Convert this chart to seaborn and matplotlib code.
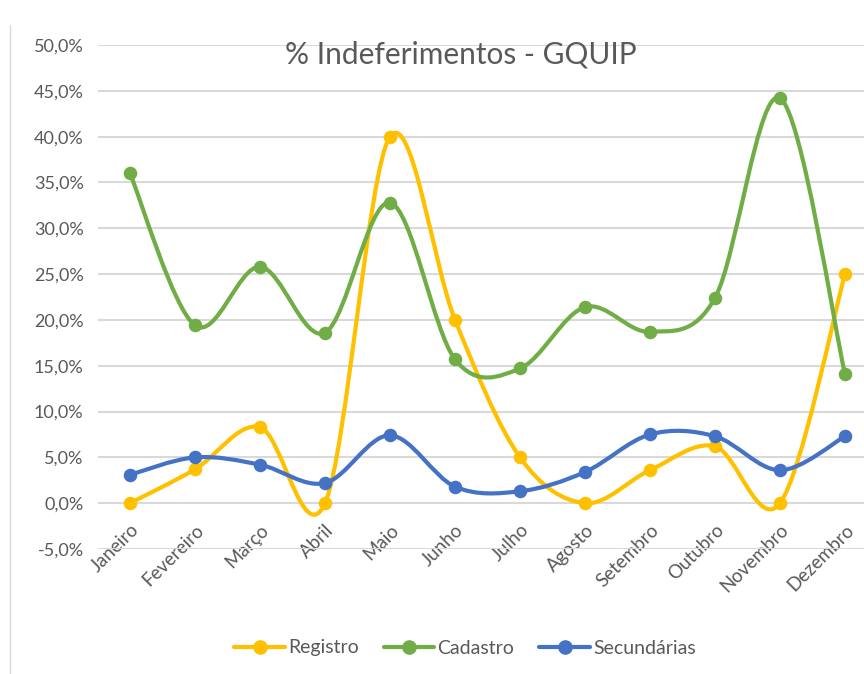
import numpy as np
import matplotlib
matplotlib.use("Agg")
import matplotlib.pyplot as plt
import seaborn as sns
from matplotlib.path import Path
from matplotlib.patches import PathPatch
from matplotlib.lines import Line2D

# Data (percent)
meses = ["Janeiro", "Fevereiro", "Março", "Abril", "Maio", "Junho", "Julho",
         "Agosto", "Setembro", "Outubro", "Novembro", "Dezembro"]
registro = [0.0, 3.7, 8.3, 0.0, 40.0, 20.0, 5.0, 0.0, 3.6, 6.2, 0.0, 25.0]
cadastro = [36.0, 19.4, 25.8, 18.6, 32.8, 15.7, 14.7, 21.4, 18.7, 22.4, 44.2, 14.1]
secundarias = [3.1, 5.0, 4.2, 2.2, 7.4, 1.8, 1.3, 3.4, 7.5, 7.3, 3.6, 7.3]

series = [("Registro", registro, "#FFC000"),
          ("Cadastro", cadastro, "#70AD47"),
          ("Secundárias", secundarias, "#4472C4")]

sns.set_theme(style="white")
plt.rcParams['font.family'] = ['Lato', 'DejaVu Sans']

fig = plt.figure(figsize=(8.64, 6.74), dpi=100)
ax = fig.add_axes([97.5 / 864, 1 - 549 / 674, (864 - 97.5) / 864, 504 / 674])


def smooth_path(xs, ys):
    # Excel-like smoothed line: cubic Bezier segments (Catmull-Rom)
    pts = np.column_stack([xs, ys]).astype(float)
    ext = np.vstack([pts[0], pts, pts[-1]])
    verts = [pts[0]]
    codes = [Path.MOVETO]
    for i in range(len(pts) - 1):
        p0, p1, p2, p3 = ext[i], ext[i + 1], ext[i + 2], ext[i + 3]
        c1 = p1 + (p2 - p0) / 6.0
        c2 = p2 - (p3 - p1) / 6.0
        verts += [c1, c2, p2]
        codes += [Path.CURVE4] * 3
    return Path(verts, codes)


x = np.arange(len(meses))
for nome, vals, cor in series:
    patch = PathPatch(smooth_path(x, vals), fill=False, edgecolor=cor,
                      lw=3.0, capstyle='round', joinstyle='round', zorder=3)
    patch.set_clip_on(False)
    ax.add_patch(patch)
    sns.scatterplot(x=x, y=vals, color=cor, s=95, edgecolor=cor,
                    linewidth=0, ax=ax, zorder=4, legend=False)
for c in ax.collections:
    c.set_clip_on(False)

ax.set_xlim(-0.5, (864 - 97.5) / 65 - 0.5)
ax.set_ylim(-5, 50)
yt = np.arange(-5, 51, 5)
ax.set_yticks(yt)
ax.set_yticklabels([f"{v:.1f}%".replace(".", ",") for v in yt],
                   color="#595959", fontsize=13)
ax.set_xticks(x)
ax.set_xticklabels(meses, rotation=45, ha="right", rotation_mode="anchor",
                   color="#595959", fontsize=13.5)
ax.tick_params(axis='y', length=0, pad=10)
ax.tick_params(axis='x', length=0, pad=-20)
ax.grid(axis='y', color="#d9d9d9", lw=1.5)
ax.set_axisbelow(True)
for s in ax.spines.values():
    s.set_visible(False)

fig.text(461 / 864, 1 - 55 / 674, "% Indeferimentos - GQUIP", ha="center",
         va="center", fontsize=21.5, color="#595959")

handles = [Line2D([0], [0], color=c, lw=3.0, marker='o', markersize=9.5)
           for _, _, c in series]
fig.legend(handles, [n for n, _, _ in series], loc="center",
           bbox_to_anchor=(465 / 864, 1 - 648 / 674), ncol=3, frameon=False,
           fontsize=14, handlelength=2.6, handletextpad=0.15,
           columnspacing=1.3, labelcolor="#595959")

fig.add_artist(Line2D([10 / 864, 10 / 864], [0, 1 - 25 / 674],
                      transform=fig.transFigure, color="#d9d9d9", lw=1))

fig.savefig("out.png", dpi=100)
